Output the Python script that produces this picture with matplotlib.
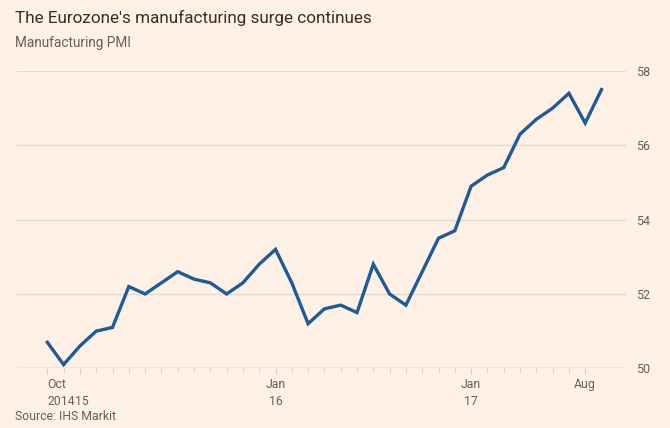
import matplotlib
matplotlib.use("Agg")
import matplotlib.pyplot as plt
import matplotlib.transforms as mtransforms
from matplotlib.ticker import FixedLocator

# ---- data ----
months = ["2014-10", "2014-11", "2014-12",
          "2015-01", "2015-02", "2015-03", "2015-04", "2015-05", "2015-06",
          "2015-07", "2015-08", "2015-09", "2015-10", "2015-11", "2015-12",
          "2016-01", "2016-02", "2016-03", "2016-04", "2016-05", "2016-06",
          "2016-07", "2016-08", "2016-09", "2016-10", "2016-11", "2016-12",
          "2017-01", "2017-02", "2017-03", "2017-04", "2017-05", "2017-06",
          "2017-07", "2017-08"]
pmi = [50.7, 50.1, 50.6,
       51.0, 51.1, 52.2, 52.0, 52.3, 52.6,
       52.4, 52.3, 52.0, 52.3, 52.8, 53.2,
       52.3, 51.2, 51.6, 51.7, 51.5, 52.8,
       52.0, 51.7, 52.6, 53.5, 53.7, 54.9,
       55.2, 55.4, 56.3, 56.7, 57.0, 57.4,
       56.6, 57.5]
x_tick_labels = ["Oct\n2014", "\n15", "Jan\n16", "Jan\n17", "Aug"]
x_tick_pos = [0, 2, 14, 26, 33]
y_ticks = [50, 52, 54, 56, 58]

BG = "#FFF1E5"
LINE = "#1D5B9A"
GRID = "#E5DAD0"
TXT = "#33302E"
SUB = "#66605C"

plt.rcParams["font.family"] = ["Roboto", "DejaVu Sans"]

fig = plt.figure(figsize=(6.7, 4.28), dpi=100, facecolor=BG)
W, H = 670, 428
left, right = 17, 626
top, bottom = 71, 368.3
ax = fig.add_axes([left / W, 1 - bottom / H, (right - left) / W, (bottom - top) / H])
ax.set_facecolor(BG)

x = list(range(len(months)))
ax.plot(x, pmi, color=LINE, lw=2.4, solid_joinstyle="miter", clip_on=False, zorder=3)

px_per_month = 16.3
x0 = (left - 47.3) / px_per_month
ax.set_xlim(x0, x0 + (right - left) / px_per_month)
ax.set_ylim(50, 58)

for s in ["top", "left", "right", "bottom"]:
    ax.spines[s].set_visible(False)

ax.yaxis.tick_right()
ax.set_yticks(y_ticks)
ax.set_yticklabels([str(v) for v in y_ticks])
ax.tick_params(axis="y", length=0, pad=7, labelsize=9, labelcolor=SUB)
for lab in ax.get_yticklabels():
    lab.set_horizontalalignment("left")
ax.yaxis.grid(True, color=GRID, lw=1)
ax.set_axisbelow(True)
ax.axhline(50, color="#D8CCC1", lw=1, zorder=1)

ax.set_xticks(x_tick_pos)
ax.set_xticklabels(x_tick_labels)
ax.xaxis.set_minor_locator(FixedLocator(list(range(0, 34))))
ax.tick_params(axis="x", which="major", length=4.2, width=0.8, color="#D8CCC1",
               pad=2.5, labelsize=8.8, labelcolor=SUB)
ax.tick_params(axis="x", which="minor", length=3, width=0.8, color="#D8CCC1")
labs = ax.get_xticklabels()
for lab in labs:
    lab.set_linespacing(1.45)
    lab.set_verticalalignment("top")
labs[0].set_horizontalalignment("left")
labs[1].set_horizontalalignment("left")
labs[1].set_transform(labs[1].get_transform() +
                      mtransforms.ScaledTranslation(-5 / 100, 0, fig.dpi_scale_trans))

fig.text(15 / W, 1 - 18 / H, "The Eurozone's manufacturing surge continues",
         fontsize=12.3, color=TXT, va="center", ha="left")
fig.text(15 / W, 1 - 43 / H, "Manufacturing PMI",
         fontsize=9.8, color=SUB, va="center", ha="left")
fig.text(15 / W, 1 - 417 / H, "Source: IHS Markit",
         fontsize=8.8, color=SUB, va="center", ha="left")

fig.savefig("out.png", dpi=100, facecolor=BG)
